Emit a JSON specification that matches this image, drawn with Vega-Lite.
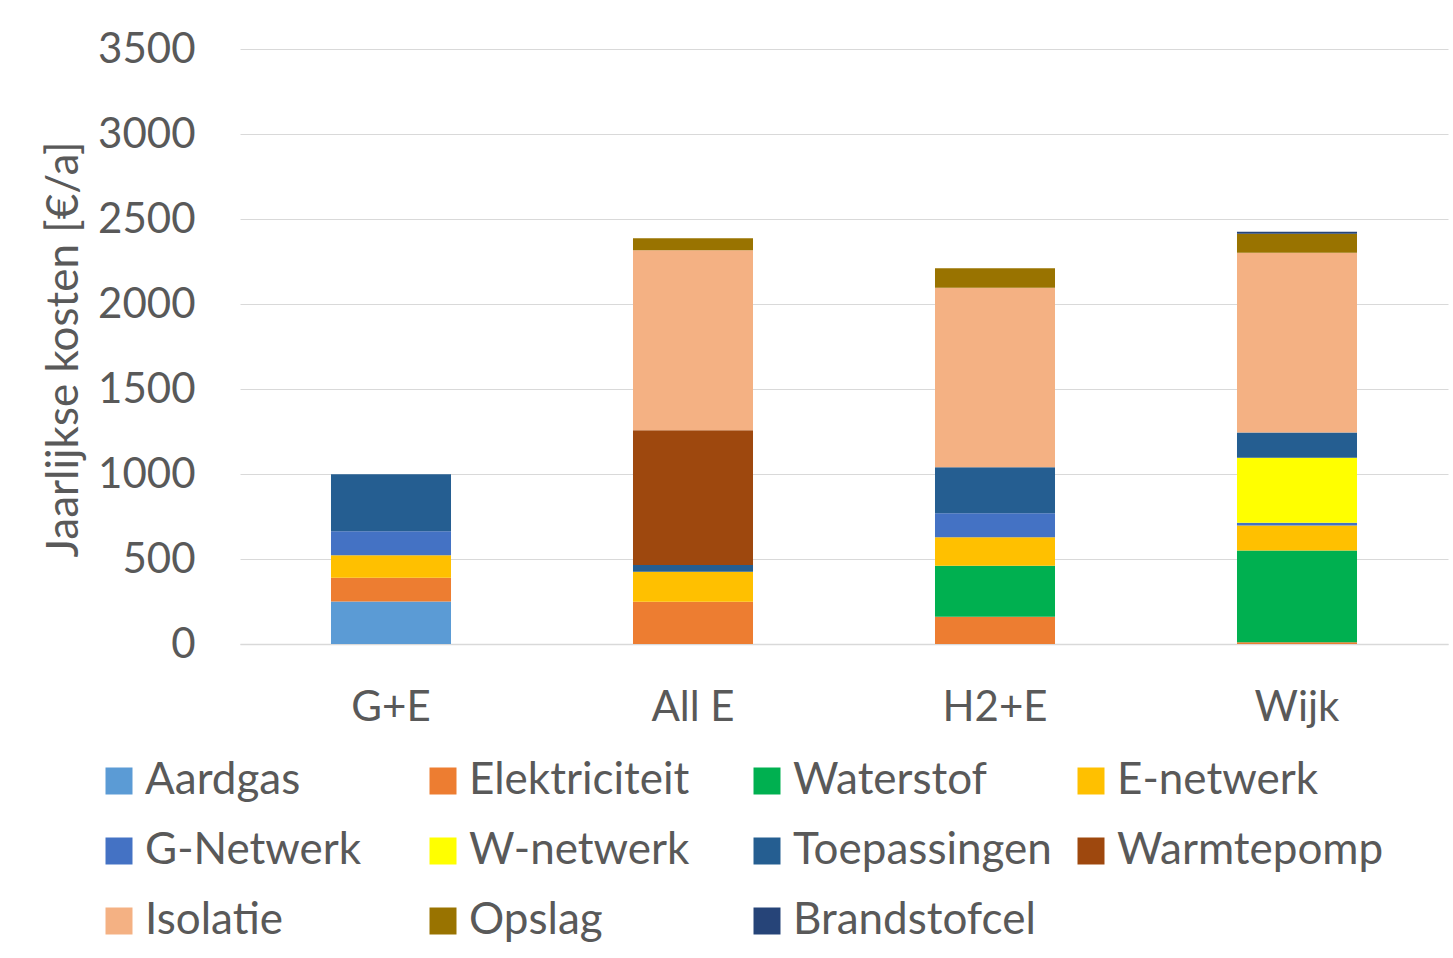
{
  "$schema": "https://vega.github.io/schema/vega-lite/v6.json",
  "autosize": {"type": "none"},
  "width": 1208,
  "height": 595,
  "padding": {"left": 240, "top": 49, "right": 5, "bottom": 314},
  "background": "white",
  "data": {
    "values": [
      {"scenario": "G+E", "component": "Aardgas", "k": 1, "cost": 250},
      {"scenario": "G+E", "component": "Elektriciteit", "k": 2, "cost": 140},
      {"scenario": "G+E", "component": "E-netwerk", "k": 4, "cost": 132},
      {"scenario": "G+E", "component": "G-Netwerk", "k": 5, "cost": 141},
      {"scenario": "G+E", "component": "Toepassingen", "k": 7, "cost": 335},
      {"scenario": "All E", "component": "Elektriciteit", "k": 2, "cost": 249},
      {"scenario": "All E", "component": "E-netwerk", "k": 4, "cost": 176},
      {"scenario": "All E", "component": "Toepassingen", "k": 7, "cost": 39},
      {"scenario": "All E", "component": "Warmtepomp", "k": 8, "cost": 794},
      {"scenario": "All E", "component": "Isolatie", "k": 9, "cost": 1058},
      {"scenario": "All E", "component": "Opslag", "k": 10, "cost": 71},
      {"scenario": "H2+E", "component": "Elektriciteit", "k": 2, "cost": 161},
      {"scenario": "H2+E", "component": "Waterstof", "k": 3, "cost": 300},
      {"scenario": "H2+E", "component": "E-netwerk", "k": 4, "cost": 167},
      {"scenario": "H2+E", "component": "G-Netwerk", "k": 5, "cost": 141},
      {"scenario": "H2+E", "component": "Toepassingen", "k": 7, "cost": 270},
      {"scenario": "H2+E", "component": "Isolatie", "k": 9, "cost": 1056},
      {"scenario": "H2+E", "component": "Opslag", "k": 10, "cost": 116},
      {"scenario": "Wijk", "component": "Elektriciteit", "k": 2, "cost": 10},
      {"scenario": "Wijk", "component": "Waterstof", "k": 3, "cost": 540},
      {"scenario": "Wijk", "component": "E-netwerk", "k": 4, "cost": 147},
      {"scenario": "Wijk", "component": "G-Netwerk", "k": 5, "cost": 16},
      {"scenario": "Wijk", "component": "W-netwerk", "k": 6, "cost": 382},
      {"scenario": "Wijk", "component": "Toepassingen", "k": 7, "cost": 149},
      {"scenario": "Wijk", "component": "Isolatie", "k": 9, "cost": 1057},
      {"scenario": "Wijk", "component": "Opslag", "k": 10, "cost": 112},
      {"scenario": "Wijk", "component": "Brandstofcel", "k": 11, "cost": 12}
    ]
  },
  "mark": {"type": "bar", "strokeWidth": 0},
  "encoding": {
    "x": {
      "field": "scenario",
      "type": "nominal",
      "sort": ["G+E", "All E", "H2+E", "Wijk"],
      "scale": {"paddingInner": 0.6026, "paddingOuter": 0.3013},
      "axis": {
        "title": null,
        "labelAngle": 0,
        "ticks": false,
        "tickSize": 0,
        "labelPadding": 76,
        "labelBaseline": "alphabetic",
        "labelFont": "Lato",
        "labelFontSize": 42,
        "labelFontWeight": 400,
        "labelColor": "#595959",
        "domainColor": "#D9D9D9",
        "domainWidth": 1.5,
        "grid": false
      }
    },
    "y": {
      "field": "cost",
      "type": "quantitative",
      "stack": "zero",
      "scale": {"domain": [0, 3500], "nice": false},
      "axis": {
        "title": "Jaarlijkse kosten [€/a]",
        "format": "d",
        "values": [0, 500, 1000, 1500, 2000, 2500, 3000, 3500],
        "ticks": false,
        "tickSize": 0,
        "domain": false,
        "labelPadding": 45,
        "labelFont": "Lato",
        "labelFontSize": 42,
        "labelFontWeight": 400,
        "labelColor": "#595959",
        "gridColor": "#D9D9D9",
        "gridWidth": 1.2,
        "titleFont": "Lato",
        "titleFontSize": 44,
        "titleFontWeight": 400,
        "titleColor": "#595959",
        "titleX": -154,
        "titleY": 300,
        "titleAngle": -90,
        "titleAlign": "center",
        "titleBaseline": "bottom"
      }
    },
    "order": {"field": "k", "type": "quantitative", "sort": "ascending"},
    "color": {
      "field": "component",
      "type": "nominal",
      "scale": {
        "domain": ["Aardgas", "Elektriciteit", "Waterstof", "E-netwerk", "G-Netwerk", "W-netwerk", "Toepassingen", "Warmtepomp", "Isolatie", "Opslag", "Brandstofcel"],
        "range": ["#5B9BD5", "#ED7D31", "#00B050", "#FFC000", "#4472C4", "#FFFF00", "#255E91", "#9E480E", "#F4B183", "#997300", "#264478"]
      },
      "legend": {
        "title": null,
        "orient": "none",
        "legendX": -143,
        "legendY": 710,
        "direction": "horizontal",
        "columns": 4,
        "gridAlign": "all",
        "columnPadding": 9,
        "rowPadding": 26,
        "padding": 0,
        "symbolType": "square",
        "symbolSize": 729,
        "symbolStrokeWidth": 0,
        "labelOffset": 4,
        "labelFont": "Lato",
        "labelFontSize": 44,
        "labelFontWeight": 400,
        "labelColor": "#595959",
        "labelLimit": 400
      }
    }
  },
  "config": {
    "view": {"stroke": null}
  }
}
